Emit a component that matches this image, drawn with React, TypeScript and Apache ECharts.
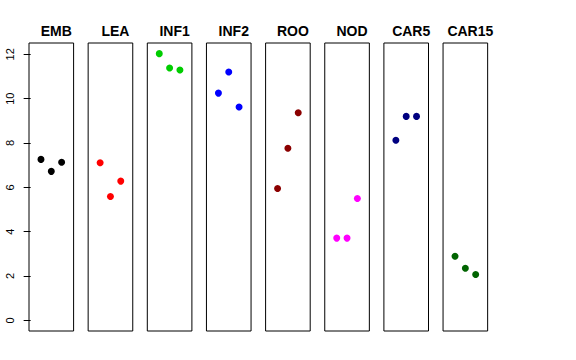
import React, { useEffect, useRef } from "react";
import * as echarts from "echarts";

const panels = ["EMB", "LEA", "INF1", "INF2", "ROO", "NOD", "CAR5", "CAR15"];
const colors = ["#000000", "#FF0000", "#00CD00", "#0000FF", "#8B0000", "#FF00FF", "#000080", "#006400"];
const values: number[][] = [
  [7.26, 6.72, 7.13],
  [7.11, 5.59, 6.28],
  [12.03, 11.38, 11.29],
  [10.25, 11.2, 9.62],
  [5.95, 7.76, 9.36],
  [3.71, 3.71, 5.5],
  [8.12, 9.2, 9.2],
  [2.89, 2.35, 2.07],
];
const yTicks = [0, 2, 4, 6, 8, 10, 12];

export default function App() {
  const ref = useRef<HTMLDivElement>(null);
  useEffect(() => {
    if (!ref.current) return;
    const chart = echarts.init(ref.current, null, { renderer: "svg" });
    const left0 = 29;
    const step = 59.15;
    const w = 44.6;
    const top = 43;
    const h = 288;
    const font = "'Liberation Sans', Arial, sans-serif";
    const grids = panels.map((_, i) => ({
      left: left0 + i * step,
      top,
      width: w,
      height: h,
      show: true,
      borderColor: "#000",
      borderWidth: 1,
      backgroundColor: "transparent",
    }));
    const xAxes = panels.map((_, i) => ({
      type: "value",
      gridIndex: i,
      min: -0.16,
      max: 4.16,
      show: false,
    }));
    const yAxes = panels.map((_, i) => ({
      type: "value",
      gridIndex: i,
      min: -0.48,
      max: 12.51,
      show: i === 0,
      splitLine: { show: false },
      axisLine: { show: false },
      axisTick: {
        show: true,
        length: 7,
        customValues: yTicks,
        lineStyle: { color: "#000", width: 1 },
      },
      axisLabel: {
        show: true,
        customValues: yTicks,
        rotate: 90,
        margin: 14,
        color: "#000",
        fontSize: 11,
        fontFamily: font,
      },
    }));
    const series = panels.map((_, i) => ({
      type: "scatter",
      xAxisIndex: i,
      yAxisIndex: i,
      symbol: "circle",
      symbolSize: 7,
      itemStyle: { color: colors[i], opacity: 1 },
      data: values[i].map((v, j) => [j + 1, v]),
    }));
    const titles = panels.map((p, i) => ({
      text: p,
      left: left0 + i * step + w / 2,
      top: 19,
      textAlign: "center",
      textStyle: { fontSize: 14, fontWeight: "bold", color: "#000", fontFamily: font },
    }));
    chart.setOption({
      animation: false,
      backgroundColor: "#fff",
      title: titles,
      grid: grids,
      xAxis: xAxes,
      yAxis: yAxes,
      series,
    });
    return () => chart.dispose();
  }, []);
  return <div ref={ref} style={{ width: 576, height: 360, position: "absolute", left: 0, top: 0 }} />;
}
